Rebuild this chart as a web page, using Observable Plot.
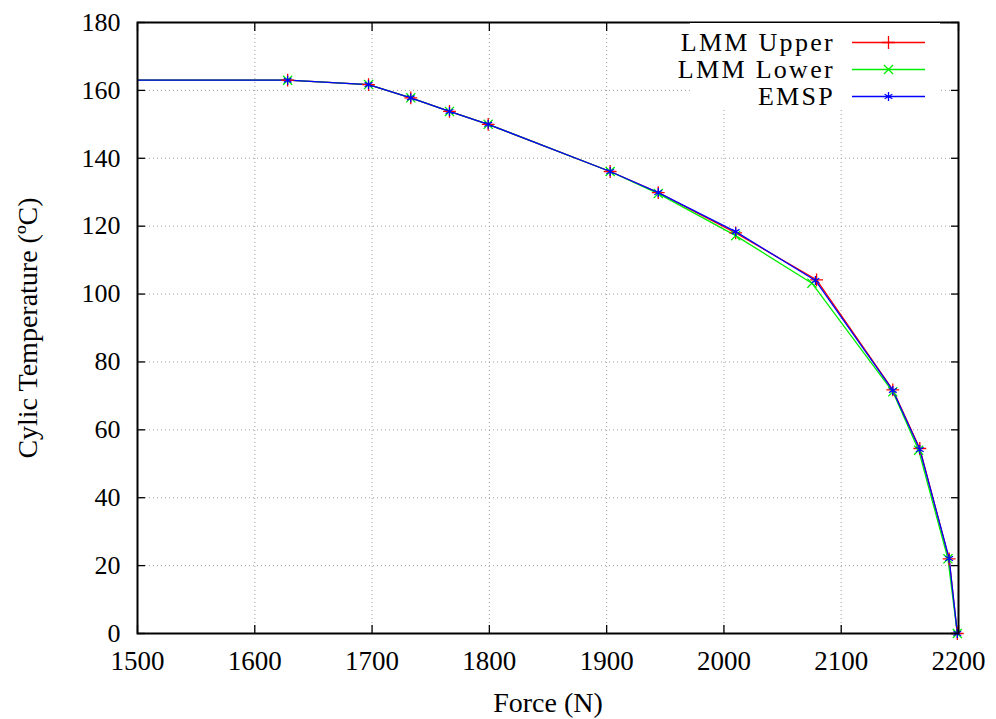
<!DOCTYPE html>
<html>
<head>
<meta charset="utf-8">
<script src="https://cdn.jsdelivr.net/npm/d3@7"></script>
<script src="https://cdn.jsdelivr.net/npm/@observablehq/plot@0.6"></script>
<style>
  body { margin: 0; background: #fff; }
  #wrap { position: relative; width: 996px; height: 719px; font-family: "Liberation Serif", "DejaVu Serif", serif; }
  #legend { position: absolute; left: 690px; top: 23px; width: 250px; height: 86px; background: #fff; }
  .row { position: absolute; left: 0; height: 27px; width: 250px; }
  .row span { position: absolute; right: 105px; top: 50%; transform: translateY(-50%); font-size: 26px; line-height: 1; letter-spacing: 2.3px; white-space: nowrap; color: #000; }
  .row svg { position: absolute; left: 162px; top: 0; }
</style>
</head>
<body>
<div id="wrap"><div id="legend"></div></div>
<script>
// Data
const seriesNames = ["LMM Upper", "LMM Lower", "EMSP"];
const seriesColors = ["#ff0000", "#00ee00", "#0000ff"];
const seriesSymbols = ["plus", "times", "asterisk"];

const forceUpper = [1400, 1628, 1697, 1733, 1766, 1799, 1903, 1944, 2010, 2079, 2144, 2167, 2192, 2199];
const tempUpper  = [163, 163, 161.7, 157.8, 153.8, 150, 136.1, 129.9, 118.0, 104.2, 71.8, 54.5, 22.0, 0];

const forceLower = [1400, 1628, 1697, 1733, 1766, 1799, 1903, 1944, 2010, 2075, 2144, 2166, 2191, 2199];
const tempLower  = [163, 163, 161.7, 157.8, 153.8, 150, 136.1, 129.6, 117.2, 103.2, 71.2, 54.0, 22.0, 0];

const forceEMSP = [1400, 1628, 1697, 1733, 1766, 1799, 1903, 1944, 2010, 2078, 2144, 2167, 2192, 2199];
const tempEMSP  = [163, 163, 161.7, 157.8, 153.8, 150, 136.1, 129.9, 118.4, 104.0, 71.6, 54.2, 22.1, 0];

const xTicks = [1500, 1600, 1700, 1800, 1900, 2000, 2100, 2200];
const yTicks = [0, 20, 40, 60, 80, 100, 120, 140, 160, 180];

const xs = [forceUpper, forceLower, forceEMSP];
const ys = [tempUpper, tempLower, tempEMSP];
const data = seriesNames.map((name, i) => xs[i].map((f, j) => ({series: name, force: f, temp: ys[i][j]})));

const marks = [
  Plot.gridX(xTicks, {stroke: "#a0a0a0", strokeOpacity: 1, strokeWidth: 1, strokeDasharray: "1,3"}),
  Plot.gridY(yTicks, {stroke: "#a0a0a0", strokeOpacity: 1, strokeWidth: 1, strokeDasharray: "1,3"}),
  Plot.axisX(xTicks, {anchor: "bottom", tickSize: 0, tickPadding: 17, fontSize: 27, tickFormat: d => String(d), label: null}),
  Plot.axisY(yTicks, {anchor: "left", tickSize: 0, tickPadding: 17, fontSize: 26, tickFormat: d => String(d), label: null}),
  Plot.axisX(xTicks, {anchor: "bottom", tickSize: -8, tickFormat: () => "", label: null, strokeWidth: 1.3}),
  Plot.axisX(xTicks, {anchor: "top", tickSize: -8, tickFormat: () => "", label: null, strokeWidth: 1.3}),
  Plot.axisY(yTicks, {anchor: "left", tickSize: -8, tickFormat: () => "", label: null, strokeWidth: 1.3}),
  Plot.axisY(yTicks, {anchor: "right", tickSize: -8, tickFormat: () => "", label: null, strokeWidth: 1.3}),
];
data.forEach((d, i) => {
  marks.push(Plot.line(d, {x: "force", y: "temp", stroke: seriesColors[i], strokeWidth: 1.3, clip: true}));
});
data.forEach((d, i) => {
  marks.push(Plot.dot(d.filter(p => p.force >= 1500), {x: "force", y: "temp", stroke: seriesColors[i], symbol: seriesSymbols[i], r: 4.2, strokeWidth: 1.3}));
});
marks.push(Plot.frame({stroke: "#000", strokeWidth: 2}));
marks.push(Plot.text(["Force (N)"], {frameAnchor: "bottom", lineAnchor: "middle", dy: 70, fontSize: 28, fill: "#000"}));
marks.push(Plot.text(["Cylic Temperature (ºC)"], {frameAnchor: "left", textAnchor: "middle", lineAnchor: "middle", dx: -109, rotate: -90, fontSize: 28, fill: "#000"}));

const chart = Plot.plot({
  width: 996,
  height: 719,
  marginLeft: 137,
  marginRight: 38,
  marginTop: 22,
  marginBottom: 86,
  style: {fontFamily: '"Liberation Serif", "DejaVu Serif", serif', fontSize: "28px", color: "#000", background: "#fff", overflow: "visible"},
  x: {domain: [1500, 2200]},
  y: {domain: [0, 180]},
  marks
});
const wrap = document.getElementById("wrap");
wrap.insertBefore(chart, wrap.firstChild);

// Legend (HTML overlay, top-right inside the plot)
const legend = document.getElementById("legend");
seriesNames.forEach((name, i) => {
  const row = document.createElement("div");
  row.className = "row";
  row.style.top = (6 + i * 27) + "px";
  const span = document.createElement("span");
  span.textContent = name;
  row.appendChild(span);
  const sw = d3.create("svg").attr("width", 74).attr("height", 27);
  sw.append("line").attr("x1", 0).attr("x2", 73).attr("y1", 13.5).attr("y2", 13.5).attr("stroke", seriesColors[i]).attr("stroke-width", 1.3);
  const symMap = {plus: d3.symbolPlus, times: d3.symbolTimes, asterisk: d3.symbolAsterisk};
  sw.append("path").attr("transform", "translate(36.5,13.5)").attr("d", d3.symbol(symMap[seriesSymbols[i]], Math.PI * 4.2 * 4.2)()).attr("fill", "none").attr("stroke", seriesColors[i]).attr("stroke-width", 1.3);
  row.appendChild(sw.node());
  legend.appendChild(row);
});
</script>
</body>
</html>
